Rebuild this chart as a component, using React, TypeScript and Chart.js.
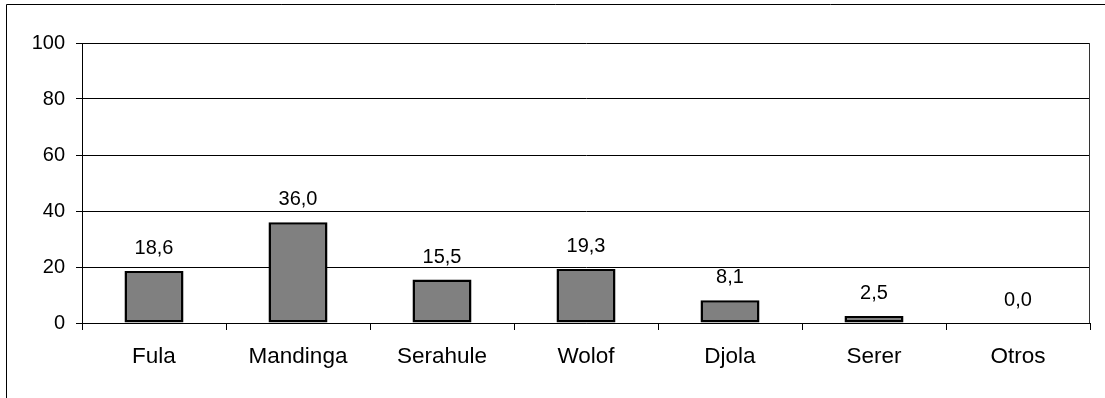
import React, { useEffect, useRef } from "react";
import { Chart, registerables } from "chart.js";

Chart.register(...registerables);

const categories = ["Fula", "Mandinga", "Serahule", "Wolof", "Djola", "Serer", "Otros"];
const values = [18.6, 36.0, 15.5, 19.3, 8.1, 2.5, 0.0];
const yTicks = [0, 20, 40, 60, 80, 100];

const FONT = "'Liberation Sans', Arial, sans-serif";

const framePlugin = {
  id: "framePlugin",
  beforeDraw(chart: any) {
    const ctx = chart.ctx;
    ctx.save();
    ctx.fillStyle = "#ffffff";
    ctx.fillRect(0, 0, chart.width, chart.height);
    ctx.strokeStyle = "#000000";
    ctx.lineWidth = 1;
    ctx.beginPath();
    ctx.moveTo(6.5, chart.height);
    ctx.lineTo(6.5, 4.5);
    ctx.lineTo(chart.width, 4.5);
    ctx.stroke();
    ctx.restore();
  },
  afterDraw(chart: any) {
    const ctx = chart.ctx;
    const a = chart.chartArea;
    ctx.save();
    ctx.strokeStyle = "#333333";
    ctx.lineWidth = 1;
    ctx.beginPath();
    ctx.moveTo(Math.round(a.right) - 0.5, a.top);
    ctx.lineTo(Math.round(a.right) - 0.5, a.bottom);
    ctx.stroke();
    // data labels
    const meta = chart.getDatasetMeta(0);
    ctx.fillStyle = "#000000";
    ctx.font = `20px ${FONT}`;
    ctx.textAlign = "center";
    ctx.textBaseline = "alphabetic";
    meta.data.forEach((bar: any, i: number) => {
      const v = values[i];
      ctx.fillText(v.toFixed(1).replace(".", ","), bar.x, bar.y - 17);
    });
    ctx.restore();
  },
};

export default function App() {
  const ref = useRef<HTMLCanvasElement | null>(null);
  useEffect(() => {
    document.body.style.margin = "0";
    const canvas = ref.current!;
    const chart = new Chart(canvas, {
      type: "bar",
      data: {
        labels: categories,
        datasets: [
          {
            data: values,
            backgroundColor: "#808080",
            borderColor: "#000000",
            borderWidth: 2.5,
            borderSkipped: false,
            barPercentage: 0.41,
            categoryPercentage: 1,
          },
        ],
      },
      options: {
        responsive: false,
        animation: false,
        devicePixelRatio: 1,
        layout: { padding: { left: 0, right: 15, top: 43, bottom: 0 } },
        plugins: { legend: { display: false }, tooltip: { enabled: false } },
        scales: {
          x: {
            grid: {
              display: true,
              drawOnChartArea: false,
              drawTicks: true,
              tickLength: 7,
              color: "#000000",
              offset: true,
            },
            border: { display: true, color: "#000000", width: 1 },
            ticks: {
              color: "#000000",
              font: { family: FONT, size: 22.5 },
              padding: 13,
              maxRotation: 0,
              autoSkip: false,
            },
            afterFit(scale: any) {
              scale.height = 75;
            },
          },
          y: {
            min: 0,
            max: 100,
            afterBuildTicks(scale: any) {
              scale.ticks = yTicks.map((v) => ({ value: v }));
            },
            grid: {
              color: "#000000",
              tickLength: 6,
              drawTicks: true,
            },
            border: { display: true, color: "#000000", width: 1 },
            ticks: {
              color: "#000000",
              font: { family: FONT, size: 20 },
              padding: 11,
            },
            afterFit(scale: any) {
              scale.width = 82;
            },
          },
        },
      },
      plugins: [framePlugin],
    });
    return () => chart.destroy();
  }, []);
  return (
    <div style={{ width: 1105, height: 398 }}>
      <canvas ref={ref} width={1105} height={398} style={{ display: "block" }} />
    </div>
  );
}
